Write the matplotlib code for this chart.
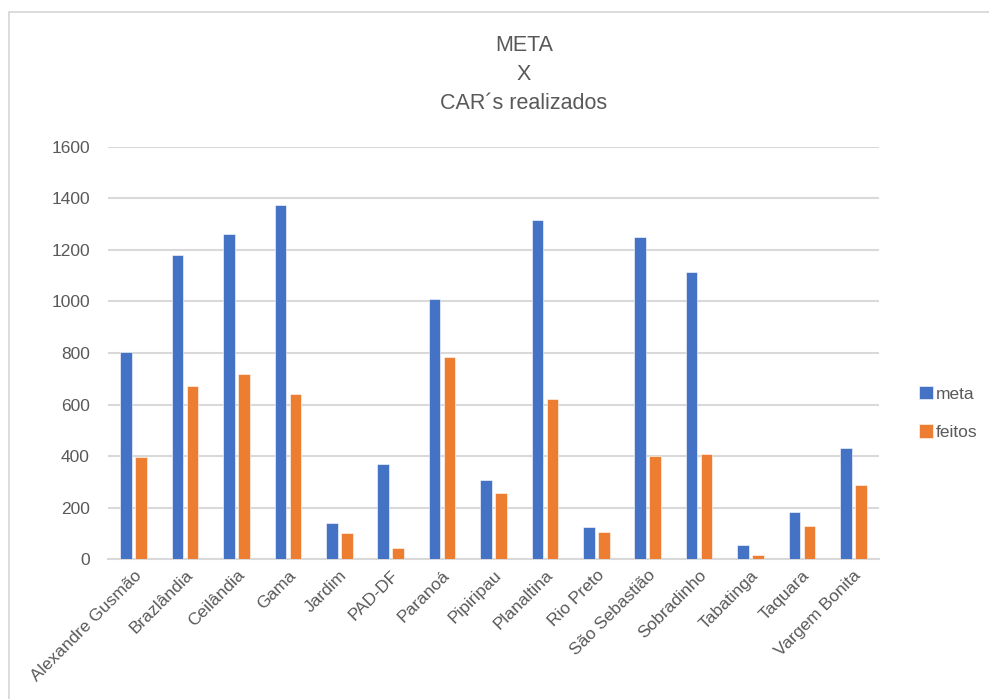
import matplotlib
matplotlib.use("Agg")
import matplotlib.pyplot as plt
import numpy as np
from matplotlib.patches import Rectangle

plt.rcParams['font.family'] = ['Liberation Sans', 'DejaVu Sans']

categories = ["Alexandre Gusmão", "Brazlândia", "Ceilândia", "Gama", "Jardim",
              "PAD-DF", "Paranoá", "Pipiripau", "Planaltina", "Rio Preto",
              "São Sebastião", "Sobradinho", "Tabatinga", "Taquara", "Vargem Bonita"]
meta = [805, 1179, 1260, 1375, 141, 370, 1011, 309, 1315, 124, 1249, 1113, 54, 182, 433]
feitos = [398, 671, 719, 640, 102, 44, 783, 257, 620, 105, 400, 408, 16, 129, 289]
yticks = [0, 200, 400, 600, 800, 1000, 1200, 1400, 1600]

BLUE = "#4472C4"
ORANGE = "#ED7D31"
GRID = "#D9D9D9"
TEXT = "#595959"

fig = plt.figure(figsize=(9.89, 6.99), dpi=100)
fig.patch.set_facecolor("white")

# outer chart frame (left and top edges visible)
fig.add_artist(Rectangle((8.5 / 989, -0.05), 1.1, 1 - 11.5 / 699 + 0.05,
                         transform=fig.transFigure, fill=False,
                         edgecolor=GRID, linewidth=1.3))

ax = fig.add_axes([108 / 989, (699 - 559.3) / 699, (879 - 108) / 989, (559.3 - 146.7) / 699])

x = np.arange(len(categories))
w = 0.225
off = 0.146
b1 = ax.bar(x - off, meta, width=w, color=BLUE, edgecolor="white", linewidth=0.4, label="meta", zorder=3)
b2 = ax.bar(x + off, feitos, width=w, color=ORANGE, edgecolor="white", linewidth=0.4, label="feitos", zorder=3)

ax.set_xlim(-0.5, len(categories) - 0.5)
ax.set_ylim(0, 1600)
ax.set_yticks(yticks)
ax.set_yticklabels([str(v) for v in yticks])
ax.yaxis.grid(True, color=GRID, linewidth=1.5, zorder=0)
ax.set_axisbelow(True)

for s in ["top", "right", "left"]:
    ax.spines[s].set_visible(False)
ax.spines["bottom"].set_color(GRID)
ax.spines["bottom"].set_linewidth(1.5)

ax.tick_params(axis="y", length=0, pad=13, labelsize=12.5, labelcolor=TEXT)
ax.tick_params(axis="x", length=0, pad=6, labelsize=12.5, labelcolor=TEXT)
ax.set_xticks(x)
ax.set_xticklabels(categories, rotation=45, ha="right", rotation_mode="anchor")

fig.text(524 / 989, 1 - 35 / 699, "META\nX\nCAR´s realizados", ha="center", va="top",
         fontsize=15.5, color=TEXT, linespacing=1.5)

leg = fig.legend(handles=[b1, b2], labels=["meta", "feitos"], loc="center left",
                 bbox_to_anchor=(919 / 989, 1 - 413 / 699), frameon=False,
                 borderaxespad=0, borderpad=0,
                 fontsize=12.5, handlelength=0.8, handleheight=0.8,
                 handletextpad=0.15, labelspacing=1.3)
for t in leg.get_texts():
    t.set_color(TEXT)

fig.savefig("out.png", dpi=100, facecolor="white")
